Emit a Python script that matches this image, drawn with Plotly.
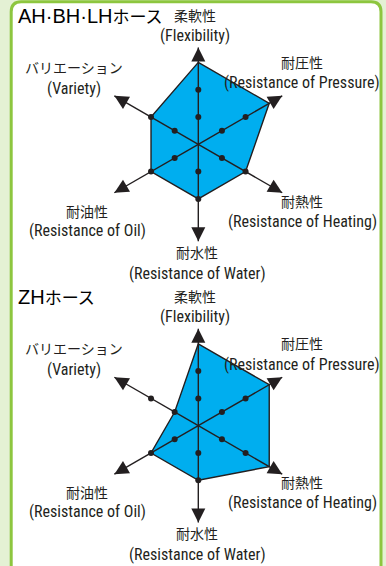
import plotly.graph_objects as go

# chart data
categories = ["Flexibility", "Pressure", "Heating", "Water", "Oil", "Variety"]
ah_bh_lh = [3, 3, 2, 2, 2, 2]
zh = [3, 3, 3, 2, 2, 1]
levels = [1, 2]
titles = ["AH·BH·LHホース", "ZHホース"]
labels_jp = ["柔軟性", "耐圧性", "耐熱性", "耐水性", "耐油性", "バリエーション"]
labels_en = ["(Flexibility)", "(Resistance of Pressure)", "(Resistance of Heating)",
             "(Resistance of Water)", "(Resistance of Oil)", "(Variety)"]

W, H = 386, 566
ARROW_R = 3.55
R_MAX = 3.6
INK = "#231f20"
BLUE = "#00aeef"
LATIN = "Liberation Sans Narrow, Roboto Condensed, Liberation Sans, sans-serif"
JP = "Noto Sans CJK JP"

# label anchor (x, y of jp line, y of en line) in px, for the top chart
label_pos = [(195, 15, 35), (302, 62, 83), (302, 201, 221),
             (197, 252, 273), (87, 211, 230), (74, 67, 88)]
chart_offsets = [0, 281.4]
centers_y = [144.3, 425.7]
center_x = 198.3
unit_px = 27.3


def px(x):
    return x / W


def py(y):
    return 1 - y / H


fig = go.Figure()
annotations = []

for k, (vals, title) in enumerate(zip([ah_bh_lh, zh], titles)):
    sub = "polar" if k == 0 else "polar%d" % (k + 1)
    rad = R_MAX * unit_px
    cy = centers_y[k]
    fig.update_layout(**{sub: dict(
        domain=dict(x=[px(center_x - rad), px(center_x + rad)],
                    y=[py(cy + rad), py(cy - rad)]),
        bgcolor="rgba(0,0,0,0)",
        radialaxis=dict(visible=False, range=[0, R_MAX]),
        angularaxis=dict(visible=False, rotation=90, direction="clockwise",
                         type="category", categoryorder="array",
                         categoryarray=categories),
    )})

    # filled polygon
    fig.add_trace(go.Scatterpolar(
        r=vals + vals[:1], theta=categories + categories[:1], subplot=sub,
        mode="lines", fill="toself", fillcolor=BLUE,
        line=dict(color=INK, width=1.4), hoverinfo="skip"))

    # axis lines
    ar, at = [], []
    for c in categories:
        ar += [0, ARROW_R, None]
        at += [c, c, None]
    fig.add_trace(go.Scatterpolar(
        r=ar, theta=at, subplot=sub, mode="lines",
        line=dict(color=INK, width=1.4), hoverinfo="skip"))

    # level dots
    dr, dt = [], []
    for c in categories:
        for lv in levels:
            dr.append(lv)
            dt.append(c)
    fig.add_trace(go.Scatterpolar(
        r=dr, theta=dt, subplot=sub, mode="markers",
        marker=dict(color=INK, size=6), hoverinfo="skip"))

    # arrow heads
    fig.add_trace(go.Scatterpolar(
        r=[ARROW_R] * len(categories), theta=categories, subplot=sub,
        mode="markers", cliponaxis=False,
        marker=dict(symbol="arrow-up", size=14, color=INK,
                    angle=[i * 360 / len(categories) for i in range(len(categories))],
                    angleref="up"),
        hoverinfo="skip"))

    off = chart_offsets[k]
    annotations.append(dict(
        text='<span style="font-size:20px">%s</span>%s' % (title[:-3], title[-3:]),
        x=px(16), y=py(16 + off), xref="paper", yref="paper",
        xanchor="left", yanchor="middle", showarrow=False,
        font=dict(family="Liberation Sans, " + JP, size=17, color="#000000")))
    for (lx, ly_jp, ly_en), jp, en in zip(label_pos, labels_jp, labels_en):
        annotations.append(dict(
            text=jp, x=px(lx), y=py(ly_jp + off), xref="paper", yref="paper",
            xanchor="center", yanchor="middle", showarrow=False,
            font=dict(family=JP, size=14, color=INK)))
        annotations.append(dict(
            text=en, x=px(lx), y=py(ly_en + off), xref="paper", yref="paper",
            xanchor="center", yanchor="middle", showarrow=False,
            font=dict(family=LATIN, size=16, color=INK)))

# rounded green panel
L, R, T, B, rr = 11.2, 381, 1.8, 600, 10
panel = ("M {l},{b} L {l},{t1} Q {l},{t} {l1},{t} L {r1},{t} Q {r},{t} {r},{t1} "
         "L {r},{b} Z").format(l=px(L), r=px(R), t=py(T), b=py(B), t1=py(T + rr),
                               l1=px(L + rr), r1=px(R - rr))

fig.update_layout(
    width=W, height=H, margin=dict(l=0, r=0, t=0, b=0),
    paper_bgcolor="#e4f1d4", showlegend=False,
    shapes=[dict(type="path", path=panel, xref="paper", yref="paper",
                 fillcolor="#ffffff", line=dict(color="#8dc63f", width=3),
                 layer="below")],
    annotations=annotations,
)

# page body margin would shift the figure by 8px
fig.write_html("out.html", config={"displayModeBar": False},
               post_script="document.body.style.margin='0';"
                           "document.body.style.overflow='hidden';")
